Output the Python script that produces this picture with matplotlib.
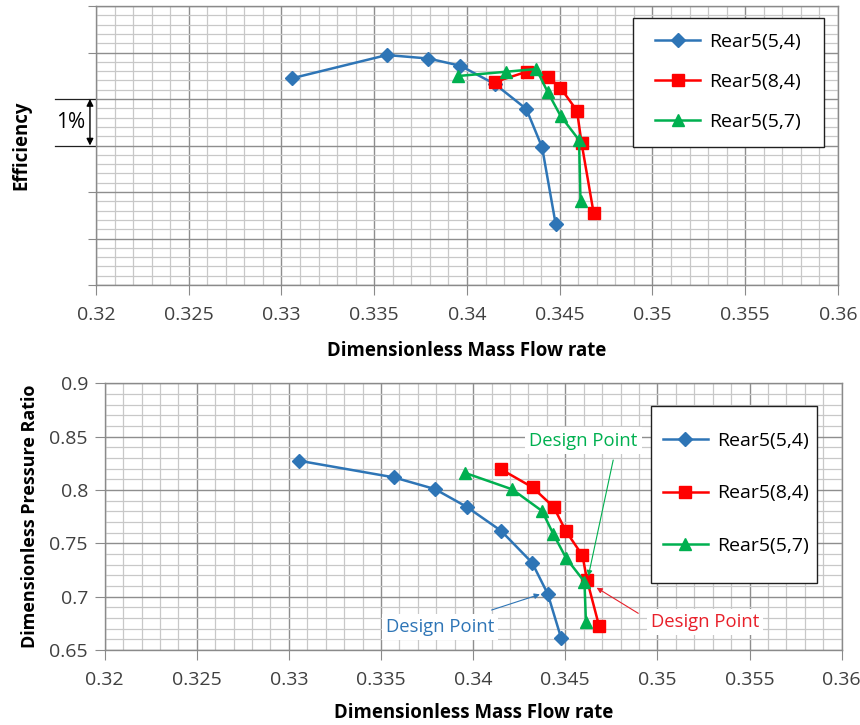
import numpy as np
import matplotlib
matplotlib.use('Agg')
import matplotlib.pyplot as plt
from matplotlib.ticker import MultipleLocator
from matplotlib.patches import Rectangle

plt.rcParams['font.family'] = ['Open Sans', 'DejaVu Sans']

# data
labels = ['Rear5(5,4)', 'Rear5(8,4)', 'Rear5(5,7)']
colors = ['#2E75B6', '#FF0000', '#00B050']
markers = ['D', 's', '^']

flow_54 = [0.33056, 0.33568, 0.33792, 0.33964, 0.34151, 0.34320, 0.34405, 0.34478]
eff_54 = [4.445, 4.946, 4.871, 4.716, 4.32, 3.785, 2.961, 1.312]
pr_54 = [0.8274, 0.8119, 0.8009, 0.7843, 0.7618, 0.7318, 0.7025, 0.6609]

flow_84 = [0.34151, 0.34322, 0.34437, 0.34503, 0.34593, 0.34618, 0.34683]
eff_84 = [4.366, 4.587, 4.467, 4.245, 3.748, 3.047, 1.542]
pr_84 = [0.8194, 0.8025, 0.7840, 0.7615, 0.7387, 0.7156, 0.6728]

flow_57 = [0.33953, 0.34212, 0.34374, 0.34435, 0.34505, 0.34604, 0.34612]
eff_57 = [4.495, 4.587, 4.645, 4.151, 3.634, 3.118, 1.800]
pr_57 = [0.8162, 0.8006, 0.7803, 0.7587, 0.7360, 0.7140, 0.6765]

flows = [flow_54, flow_84, flow_57]
effs = [eff_54, eff_84, eff_57]
prs = [pr_54, pr_84, pr_57]
msizes = [7, 8, 8.5]

xticks = [0.32, 0.325, 0.33, 0.335, 0.34, 0.345, 0.35, 0.355, 0.36]
xticklabels = ['0.32', '0.325', '0.33', '0.335', '0.34', '0.345', '0.35', '0.355', '0.36']

fig = plt.figure(figsize=(8.6, 7.25), dpi=100)
ax1 = fig.add_axes([0.1116, 0.6069, 0.8628, 0.3848])
ax2 = fig.add_axes([0.1217, 0.1034, 0.8570, 0.3679])


def style_axes(ax):
    ax.set_xlim(0.32, 0.36)
    ax.set_xticks(xticks)
    ax.set_xticklabels(xticklabels)
    ax.xaxis.set_minor_locator(MultipleLocator(0.001))
    ax.grid(True, which='major', color='#8e8e8e', lw=1.0)
    ax.grid(True, which='minor', color='#c8c8c8', lw=0.9)
    ax.set_axisbelow(True)
    ax.tick_params(which='major', length=7, color='#8a8a8a', labelsize=14,
                   labelcolor='#404040', pad=5)
    ax.tick_params(axis='x', pad=8)
    ax.tick_params(which='minor', length=0)
    for s in ax.spines.values():
        s.set_color('#8a8a8a')
        s.set_linewidth(1.0)
    ax.set_xlabel('Dimensionless Mass Flow rate', fontsize=13.4, fontweight='bold')


def framed_legend(ax, box, anchor, spacing):
    # frame drawn as a patch so the padding matches the reference box
    ax.add_patch(Rectangle((box[0], box[1]), box[2], box[3], transform=ax.transAxes,
                           facecolor='white', edgecolor='#202020', lw=1.0,
                           zorder=8, clip_on=False))
    leg = ax.legend(loc='center left', bbox_to_anchor=anchor, fontsize=14,
                    frameon=False, borderpad=0, borderaxespad=0,
                    labelspacing=spacing, handlelength=2.35, handletextpad=0.45)
    leg.set_zorder(9)
    return leg


style_axes(ax1)
ax1.set_ylim(0, 6)
ax1.yaxis.set_major_locator(MultipleLocator(1))
ax1.yaxis.set_minor_locator(MultipleLocator(0.2))
ax1.set_yticklabels([])
ax1.tick_params(axis='y', length=6)
ax1.set_ylabel('Efficiency', fontsize=13.4, fontweight='bold')
ax1.yaxis.set_label_coords(-0.087, 0.5)
ax1.xaxis.set_label_coords(0.5, -0.2)

style_axes(ax2)
ax2.set_ylim(0.65, 0.9)
ax2.set_yticks([0.65, 0.7, 0.75, 0.8, 0.85, 0.9])
ax2.set_yticklabels(['0.65', '0.7', '0.75', '0.8', '0.85', '0.9'])
ax2.yaxis.set_minor_locator(MultipleLocator(0.01))
ax2.set_ylabel('Dimensionless Pressure Ratio', fontsize=13, fontweight='bold')
ax2.yaxis.set_label_coords(-0.089, 0.5)
ax2.xaxis.set_label_coords(0.5, -0.2)

for i in range(3):
    ax1.plot(flows[i], effs[i], color=colors[i], marker=markers[i], ms=msizes[i],
             lw=1.8, label=labels[i], zorder=3 + i)
    ax2.plot(flows[i], prs[i], color=colors[i], marker=markers[i], ms=msizes[i],
             lw=1.8, label=labels[i], zorder=3 + i)

framed_legend(ax1, (0.724, 0.496, 0.257, 0.46), (0.753, 0.728), 1.13)
framed_legend(ax2, (0.741, 0.2524, 0.226, 0.664), (0.757, 0.5876), 1.76)

# 1% scale marker on the efficiency axis
tr = ax1.get_yaxis_transform()
ax1.plot([-0.0553, 0], [4, 4], color='#202020', lw=0.9, transform=tr, clip_on=False)
ax1.plot([-0.0553, 0], [3, 3], color='#202020', lw=0.9, transform=tr, clip_on=False)
ax1.annotate('', xy=(-0.0081, 3), xytext=(-0.0081, 4), xycoords=tr, textcoords=tr,
             arrowprops=dict(arrowstyle='<|-|>', color='black', lw=1.0,
                             mutation_scale=10, shrinkA=0, shrinkB=0))
ax1.text(-0.034, 3.5, '1%', transform=tr, fontsize=15, ha='center', va='center')

# design point callouts
box = dict(facecolor='white', edgecolor='none', pad=3)
ax2.text(0.3382, 0.6718, 'Design Point', color=colors[0], fontsize=13.3,
         ha='center', va='center', bbox=box, zorder=6)
ax2.annotate('', xy=(0.34362, 0.7022), xytext=(0.3410, 0.6875),
             arrowprops=dict(arrowstyle='-|>', color=colors[0], lw=0.8,
                             mutation_scale=8, shrinkA=0, shrinkB=0), zorder=7)
ax2.text(0.34598, 0.8462, 'Design Point', color=colors[2], fontsize=13.3,
         ha='center', va='center', bbox=box, zorder=6)
ax2.annotate('', xy=(0.34625, 0.7193), xytext=(0.3476, 0.8281),
             arrowprops=dict(arrowstyle='-|>', color=colors[2], lw=0.8,
                             mutation_scale=8, shrinkA=0, shrinkB=0), zorder=7)
ax2.text(0.35258, 0.6765, 'Design Point', color='#E8202A', fontsize=13.3,
         ha='center', va='center', bbox=box, zorder=6)
ax2.annotate('', xy=(0.3467, 0.7084), xytext=(0.34896, 0.6844),
             arrowprops=dict(arrowstyle='-|>', color='#E8202A', lw=0.8,
                             mutation_scale=8, shrinkA=0, shrinkB=0), zorder=7)

fig.savefig('out.png', dpi=100)
